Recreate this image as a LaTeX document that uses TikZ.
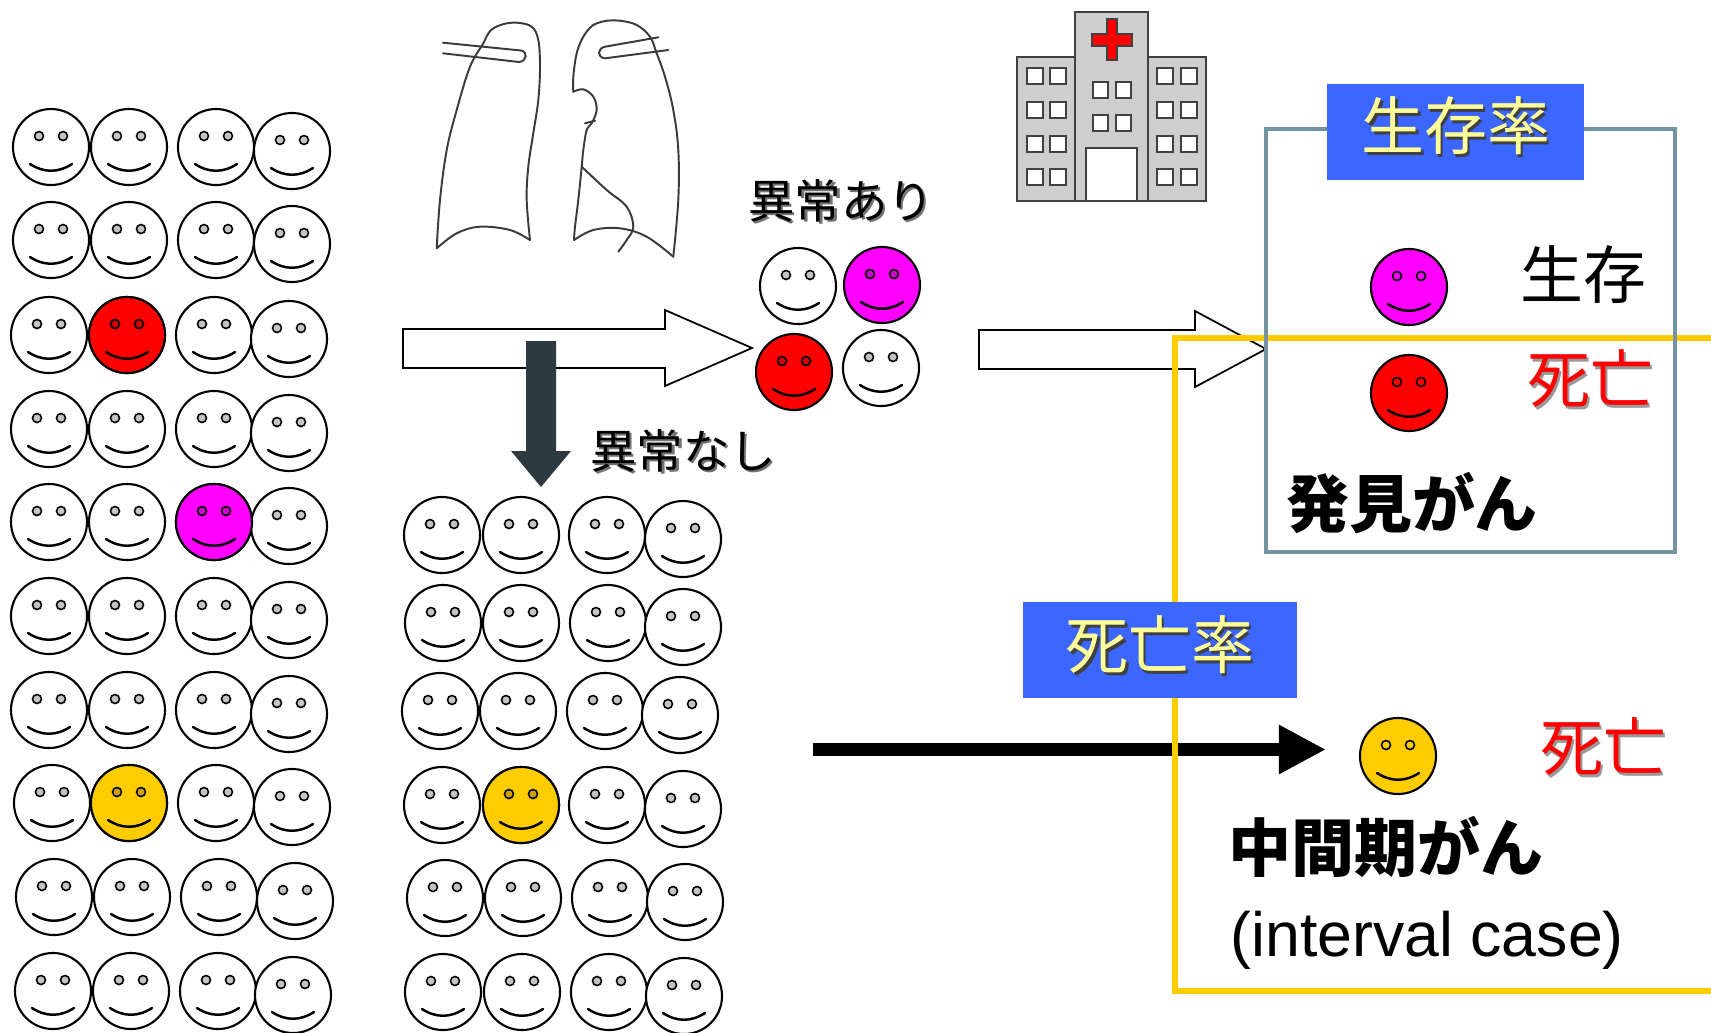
\documentclass[tikz,border=0pt]{standalone}
\usepackage{fontspec}
\setmainfont{Liberation Sans}
\newfontfamily\jp{Noto Sans CJK JP}
\usetikzlibrary{arrows.meta}

\definecolor{facered}{RGB}{255,0,0}
\definecolor{facemag}{RGB}{255,0,255}
\definecolor{faceyel}{RGB}{255,204,0}
\definecolor{eyegray}{RGB}{196,196,196}
\definecolor{boxgray}{RGB}{116,148,162}
\definecolor{boxyel}{RGB}{255,204,0}
\definecolor{labblue}{RGB}{59,102,255}
\definecolor{labtext}{RGB}{255,255,153}
\definecolor{darkarrow}{RGB}{45,58,66}
\definecolor{hospgray}{RGB}{206,206,206}
\definecolor{hospline}{RGB}{64,64,64}
\definecolor{lungline}{RGB}{58,58,58}

% text with a small drop shadow
\newcommand\shad[2]{\leavevmode\rlap{\kern0.7pt\raisebox{-0.7pt}{\textcolor{#1}{#2}}}#2}

\tikzset{
  pics/face/.style 2 args={code={
    \draw[line width=0.6pt, fill=#1] (0,0) circle[radius=0.38cm];
    \draw[line width=0.45pt, fill=#2] (-12,-11) circle[radius=0.045cm] (12,-11) circle[radius=0.045cm];
    \draw[line width=0.7pt, line cap=round] (-21,17) .. controls (-7,26) and (7,26) .. (21,17);
  }},
  hollow/.style={draw=black, line width=0.5pt, fill=white, line join=miter},
  lung/.style={draw=lungline, line width=0.55pt, line join=round, line cap=round},
  hosp/.style={draw=hospline, line width=0.4pt},
  labelbox/.style={fill=labblue, inner sep=0pt},
  bigjp/.style={inner sep=0pt, font=\jp\fontsize{17.9}{20}\selectfont},
  boldjp/.style={inner sep=0pt, font=\jp\bfseries\fontsize{17.9}{20}\selectfont},
  midjp/.style={inner sep=0pt, font=\jp\fontsize{13.2}{15}\selectfont},
}

\begin{document}
\begin{tikzpicture}[x=0.01cm, y=-0.01cm]
\fill[white] (0,0) rectangle (1711,1032);
\useasboundingbox (0,0) rectangle (1711,1032);

% ---------- population before screening ----------
\foreach \yy/\a/\b/\c/\d [count=\r] in {147/51/129/216/292, 240/51/129/216/292,
    335/49/127/214/289, 429/49/127/214/289, 522/49/127/214/289, 616/49/127/214/289,
    710/49/127/214/289, 803/52/129/216/292, 897/54/132/219/295, 991/53/131/218/293}{
  \pic (pop-\r-1) at (\a,\yy) {face={white}{eyegray}};
  \pic (pop-\r-2) at (\b,\yy) {face={white}{eyegray}};
  \pic (pop-\r-3) at (\c,\yy) {face={white}{eyegray}};
  \pic (pop-\r-4) at (\d,\yy+4) {face={white}{eyegray}};
}
\pic (pop-red) at (127,335) {face={facered}{facered!80!black}};
\pic (pop-mag) at (214,522) {face={facemag}{facemag!80!black}};
\pic (pop-yel) at (129,803) {face={faceyel}{faceyel!80!black}};

% ---------- screened negative group ----------
\foreach \yy/\a/\b/\c/\d [count=\r] in {535/442/521/607/683, 623/443/521/608/683,
    711/440/518/605/680, 805/442/521/607/683, 898/445/523/610/685, 992/443/522/609/684}{
  \pic (neg-\r-1) at (\a,\yy) {face={white}{eyegray}};
  \pic (neg-\r-2) at (\b,\yy) {face={white}{eyegray}};
  \pic (neg-\r-3) at (\c,\yy) {face={white}{eyegray}};
  \pic (neg-\r-4) at (\d,\yy+4) {face={white}{eyegray}};
}
\pic (neg-yel) at (521,805) {face={faceyel}{faceyel!80!black}};

% ---------- screened positive group ----------
\pic (pos-1) at (798,286) {face={white}{eyegray}};
\pic (pos-2) at (882,285) {face={facemag}{facemag!80!black}};
\pic (pos-3) at (794,372) {face={facered}{facered!80!black}};
\pic (pos-4) at (881,368) {face={white}{eyegray}};

% ---------- chest X-ray sketch ----------
\draw[lung] plot[smooth, tension=0.6] coordinates {(436.7,248.3) (440,200) (446.7,150)
  (456.7,110) (470,66.7) (483.3,43.3) (490,31) (502,24.5) (516.7,22.7) (531.7,26.7)
  (538.3,40) (540,66.7) (538.3,100) (533.3,133.3) (528.3,166.7) (526.7,200) (530,240)};
\draw[lung] plot[smooth, tension=0.6] coordinates {(436.7,248.3) (456.7,233.3) (480,226.7) (510,230) (530,240)};
\draw[lung] (443,42.7) -- (521,50.5) .. controls (528,51.5) and (527,61.5) .. (519,62) -- (443,53.3);
\draw[lung] plot[smooth, tension=0.6] coordinates {(606.7,20.7) (593.3,25) (583.3,36.7)
  (576.7,53.3) (573.3,76.7) (573.3,91.7)};
\draw[lung] plot[smooth, tension=0.6] coordinates {(573.3,91.7) (583.3,89.3) (593.3,96.7)
  (596.7,110) (591.7,123.3) (586.7,130) (583.3,150) (581.7,166.7) (578.3,200) (575,226.7) (574,240)};
\draw[lung] plot[smooth, tension=0.6] coordinates {(574,240) (593.3,230) (620,228.3) (646.7,236.7) (673.3,256.7)};
\draw[lung] plot[smooth, tension=0.6] coordinates {(673.3,256.7) (678.3,200) (678.3,150)
  (673.3,110) (665,76.7) (656.7,53.3) (650,36.7) (636.7,25) (620,20.7) (606.7,20.7)};
\draw[lung] (658.3,37.3) -- (605,46.7) .. controls (597,48.5) and (597,57.5) .. (605,58.3) -- (668.3,50);
\draw[lung] plot[smooth, tension=0.6] coordinates {(581.7,166.7) (606.7,190) (626.7,206.7)
  (633.3,226.7) (626.7,240) (618.3,251.7)};
\draw[lung] (585,123.3) -- (595,120.7);

% ---------- hospital ----------
\draw[hosp, fill=hospgray] (1017,57) rectangle (1075,201);
\draw[hosp, fill=hospgray] (1148,57) rectangle (1206,201);
\draw[hosp, fill=hospgray] (1075,12) rectangle (1148,201);
\foreach \yy in {68,102,136,169}{
  \foreach \xx in {1027,1050,1157,1181}{
    \draw[hosp, fill=white] (\xx,\yy) rectangle ++(16,16);
  }
}
\foreach \yy in {82,115}{
  \foreach \xx in {1093,1116}{
    \draw[hosp, fill=white] (\xx,\yy) rectangle ++(15,16);
  }
}
\draw[hosp, fill=white] (1086,148) rectangle (1137,201);
\draw[hosp, fill=facered] (1107,19) -- (1117,19) -- (1117,34) -- (1132,34) -- (1132,46)
  -- (1117,46) -- (1117,60) -- (1107,60) -- (1107,46) -- (1092,46) -- (1092,34) -- (1107,34) -- cycle;

% ---------- arrows ----------
\coordinate (screenA) at (403,329);
\draw[hollow] (screenA) -- ++(262,0) -- ++(0,-19) -- ++(87,38) -- ++(-87,38) -- ++(0,-18) -- ++(-262,0) -- cycle;
\coordinate (screenB) at (979,330);
\draw[hollow] (screenB) -- ++(216,0) -- ++(0,-19) -- ++(71,38) -- ++(-71,38) -- ++(0,-18) -- ++(-216,0) -- cycle;
\coordinate (negA) at (526,341);
\fill[darkarrow] (negA) -- ++(30,0) -- ++(0,110) -- ++(15,0) -- ++(-30,36) -- ++(-30,-36) -- ++(15,0) -- cycle;
\coordinate (intS) at (813,749.5);
\coordinate (intE) at (1326,749.5);
\draw[line width=3.7pt, -{Triangle[length=13.4pt, width=13.1pt]}] (intS) -- (intE);

% ---------- result boxes ----------
\draw[boxyel, line width=1.7pt] (1725,338) -- (1175,338) -- (1175,991) -- (1725,991);
\draw[boxgray, line width=1.15pt] (1266,129) rectangle (1675,552);

\node[labelbox, minimum width=2.57cm, minimum height=0.96cm] (survbox) at (1455.5,132) {};
\node[bigjp, text=labtext] (survtxt) at (1456,127) {\shad{black!75}{生存率}};
\node[labelbox, minimum width=2.73cm, minimum height=0.95cm] (mortbox) at (1160,650) {};
\node[bigjp, text=labtext] (morttxt) at (1160,646) {\shad{black!75}{死亡率}};

\pic (det-mag) at (1409,287) {face={facemag}{facemag}};
\pic (det-red) at (1409,393) {face={facered}{facered}};
\pic (int-yel) at (1398,756) {face={faceyel}{faceyel}};

% ---------- labels ----------
\node[midjp] (abnyes) at (841,202) {\shad{black!55}{異常あり}};
\node[midjp] (abnno) at (683,452) {\shad{black!55}{異常なし}};
\node[bigjp] (alive) at (1583,275) {生存};
\node[bigjp, text=facered] (deadA) at (1590,380) {\shad{black!40}{死亡}};
\node[boldjp] (found) at (1412,503) {発見がん};
\node[bigjp, text=facered] (deadB) at (1603,748) {\shad{black!40}{死亡}};
\node[boldjp] (interval) at (1386,847) {中間期がん};
\node[inner sep=0pt, anchor=base west, font=\fontsize{17.8}{20}\selectfont] (intcase) at (1230,956) {(interval case)};
\end{tikzpicture}
\end{document}
